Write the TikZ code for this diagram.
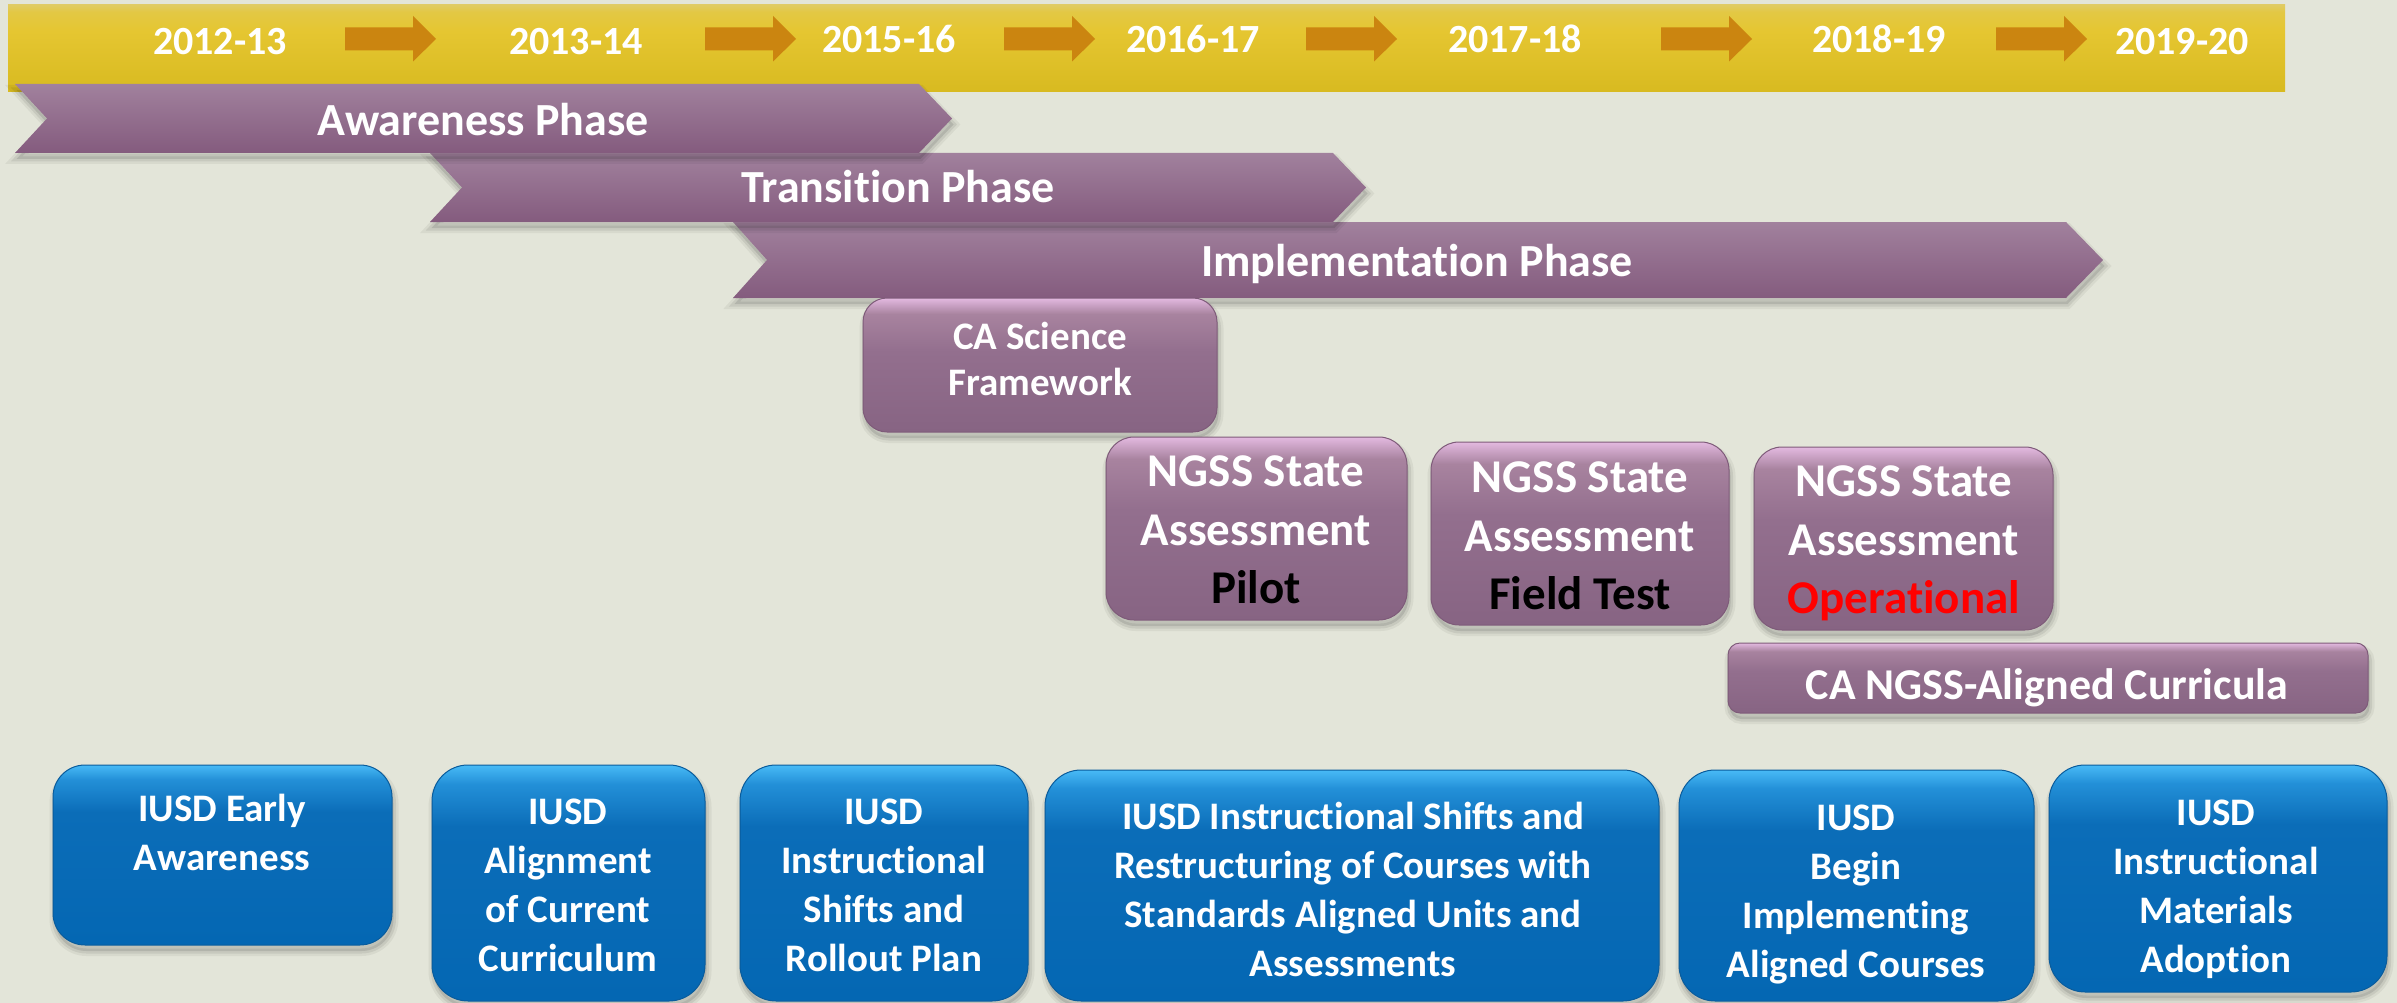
\documentclass[tikz,border=0pt]{standalone}
\usepackage{fontspec}
\setmainfont{Carlito}[Ligatures={TeX,NoCommon}]
\definecolor{bgc}{HTML}{E3E5D9}
\definecolor{yB}{HTML}{D8BA20}
\definecolor{yM}{HTML}{E5C631}
\definecolor{yU}{HTML}{E3C844}
\definecolor{yT}{HTML}{E0CB63}
\definecolor{arrowc}{HTML}{CB8510}
\definecolor{banT}{HTML}{A1819D}
\definecolor{banB}{HTML}{845B7E}
\definecolor{pB}{HTML}{876483}
\definecolor{pM}{HTML}{936F8E}
\definecolor{pU}{HTML}{A8839F}
\definecolor{pT}{HTML}{E3B9E0}
\definecolor{pE}{HTML}{7E5B79}
\definecolor{bB}{HTML}{0467B3}
\definecolor{bM}{HTML}{0B6DB8}
\definecolor{bU}{HTML}{2390D8}
\definecolor{bT}{HTML}{48BAF6}
\definecolor{bE}{HTML}{0A5C9C}
% vertical shadings: the path spans 25bp (bottom) to 75bp (top)
\pgfdeclareverticalshading{yellowbar}{100bp}{color(0bp)=(yB); color(25bp)=(yB); color(60bp)=(yM); color(71bp)=(yU); color(75bp)=(yT); color(100bp)=(yT)}
\pgfdeclareverticalshading{purpleglow}{100bp}{color(0bp)=(pB); color(25bp)=(pB); color(55bp)=(pM); color(69bp)=(pU); color(75bp)=(pT); color(100bp)=(pT)}
\pgfdeclareverticalshading{blueglow}{100bp}{color(0bp)=(bB); color(25bp)=(bB); color(62bp)=(bM); color(71bp)=(bU); color(75bp)=(bT); color(100bp)=(bT)}
% strut centred on the cap height, one baselineskip tall
\newcommand\cst{\rule[\dimexpr0.322em-0.5\baselineskip\relax]{0pt}{\baselineskip}}
\begin{document}
\begin{tikzpicture}[x=1pt,y=-1pt,
  softshadow/.style={
    preaction={fill=black, fill opacity=0.10, draw=black, draw opacity=0.05, line width=10pt,
      transform canvas={xshift=1.5pt, yshift=-6pt}},
    preaction={draw=black, draw opacity=0.07, line width=5pt,
      transform canvas={xshift=1.5pt, yshift=-6pt}}},
  yearbar/.style={shade, shading=yellowbar, inner sep=0pt, outer sep=0pt},
  yeararrow/.style={fill=arrowc},
  year/.style={text=white, font=\bfseries\fontsize{40}{48}\selectfont, inner sep=0pt},
  banner/.style={top color=banT, bottom color=banB, softshadow},
  phase/.style={text=white, font=\bfseries\fontsize{46}{55}\selectfont, inner sep=0pt},
  pbox/.style={shade, shading=purpleglow, draw=pE, line width=1pt, softshadow, inner sep=0pt},
  bbox/.style={shade, shading=blueglow, draw=bE, line width=1pt, softshadow, inner sep=0pt},
  ptxt/.style={text=white, font=\bfseries\fontsize{47}{58.5}\selectfont, align=center, inner sep=0pt},
  btxt/.style={text=white, font=\bfseries\fontsize{39}{49}\selectfont, align=center, inner sep=0pt}]

\fill[bgc] (0,0) rectangle (2397,1003);
\useasboundingbox (0,0) rectangle (2397,1003);

% school-year ribbon
\node[yearbar, minimum width=2277pt, minimum height=87pt] (bar) at (1146.5,48.5) {};
\foreach \x in {345,705,1004,1306,1661,1996}
  \fill[yeararrow] (\x,27.5) -- ++(68,0) -- ++(0,-11.5) -- ++(23,23) -- ++(-23,22.5)
     -- ++(0,-11) -- ++(-68,0) -- cycle;
\node[year] (y1) at (220,41.5) {\cst 2012-13};
\node[year] (y2) at (576,42) {\cst 2013-14};
\node[year] (y3) at (889,39.5) {\cst 2015-16};
\node[year] (y4) at (1193,39.5) {\cst 2016-17};
\node[year] (y5) at (1515,39.5) {\cst 2017-18};
\node[year] (y6) at (1879,39.5) {\cst 2018-19};
\node[year] (y7) at (2182,41.5) {\cst 2019-20};

% phase chevrons
\shade[banner] (733,222) -- (2066,222) -- (2103,260) -- (2066,298) -- (733,298) -- (767,260) -- cycle;
\shade[banner] (430,153) -- (1333,153) -- (1366,187.5) -- (1333,222) -- (430,222) -- (462,187.5) -- cycle;
\shade[banner] (15,84) -- (919,84) -- (952,118.5) -- (919,153) -- (15,153) -- (47,118.5) -- cycle;
\node[phase] (aw) at (483,120.5) {\cst Awareness Phase};
\node[phase] (tr) at (898,188) {\cst Transition Phase};
\node[phase] (im) at (1417,262) {\cst Implementation Phase};

% state milestones
\node[pbox, minimum width=354pt, minimum height=134pt, rounded corners=24pt] (fw) at (1040,365) {};
\node[ptxt, font=\bfseries\fontsize{39}{46}\selectfont] (fwt) at (1040,360) {\cst CA Science\\\cst Framework};

\node[pbox, minimum width=301pt, minimum height=183pt, rounded corners=28pt] (pl) at (1256.5,528.5) {};
\node[ptxt] (plt) at (1256,530) {\cst NGSS State\\\cst Assessment\\\cst\color{black}Pilot};

\node[pbox, minimum width=298pt, minimum height=183pt, rounded corners=28pt] (ft) at (1580,533.5) {};
\node[ptxt] (ftt) at (1580,536) {\cst NGSS State\\\cst Assessment\\\cst\color{black}Field Test};

\node[pbox, minimum width=299pt, minimum height=183pt, rounded corners=28pt] (op) at (1903.5,538.5) {};
\node[ptxt] (opt) at (1904,540) {\cst NGSS State\\\cst Assessment\\\cst\color{red}Operational};

\node[pbox, minimum width=640pt, minimum height=70pt, rounded corners=12pt] (cu) at (2048,678) {};
\node[ptxt, font=\bfseries\fontsize{44}{52}\selectfont] (cut) at (2047,685) {\cst CA NGSS-Aligned Curricula};

% district steps
\node[bbox, minimum width=339pt, minimum height=180pt, rounded corners=32pt] (b1) at (222.5,855) {};
\node[btxt] (b1t) at (222,833.5) {\cst IUSD Early\\\cst Awareness};

\node[bbox, minimum width=273pt, minimum height=236pt, rounded corners=36pt] (b2) at (568.5,883) {};
\node[btxt] (b2t) at (568,885.5) {\cst IUSD\\\cst Alignment\\\cst of Current\\\cst Curriculum};

\node[bbox, minimum width=288pt, minimum height=236pt, rounded corners=36pt] (b3) at (884,883) {};
\node[btxt] (b3t) at (884,885.5) {\cst IUSD\\\cst Instructional\\\cst Shifts and\\\cst Rollout Plan};

\node[bbox, minimum width=614pt, minimum height=231pt, rounded corners=36pt] (b4) at (1352,885.5) {};
\node[btxt] (b4t) at (1353,890) {\cst IUSD Instructional Shifts and\\\cst Restructuring of Courses with\\\cst Standards Aligned Units and\\\cst Assessments};

\node[bbox, minimum width=355pt, minimum height=231pt, rounded corners=36pt] (b5) at (1856.5,885.5) {};
\node[btxt] (b5t) at (1856,891) {\cst IUSD\\\cst Begin\\\cst Implementing\\\cst Aligned Courses};

\node[bbox, minimum width=338pt, minimum height=227pt, rounded corners=36pt] (b6) at (2218,878.5) {};
\node[btxt] (b6t) at (2216,886) {\cst IUSD\\\cst Instructional\\\cst Materials\\\cst Adoption};
\end{tikzpicture}
\end{document}
